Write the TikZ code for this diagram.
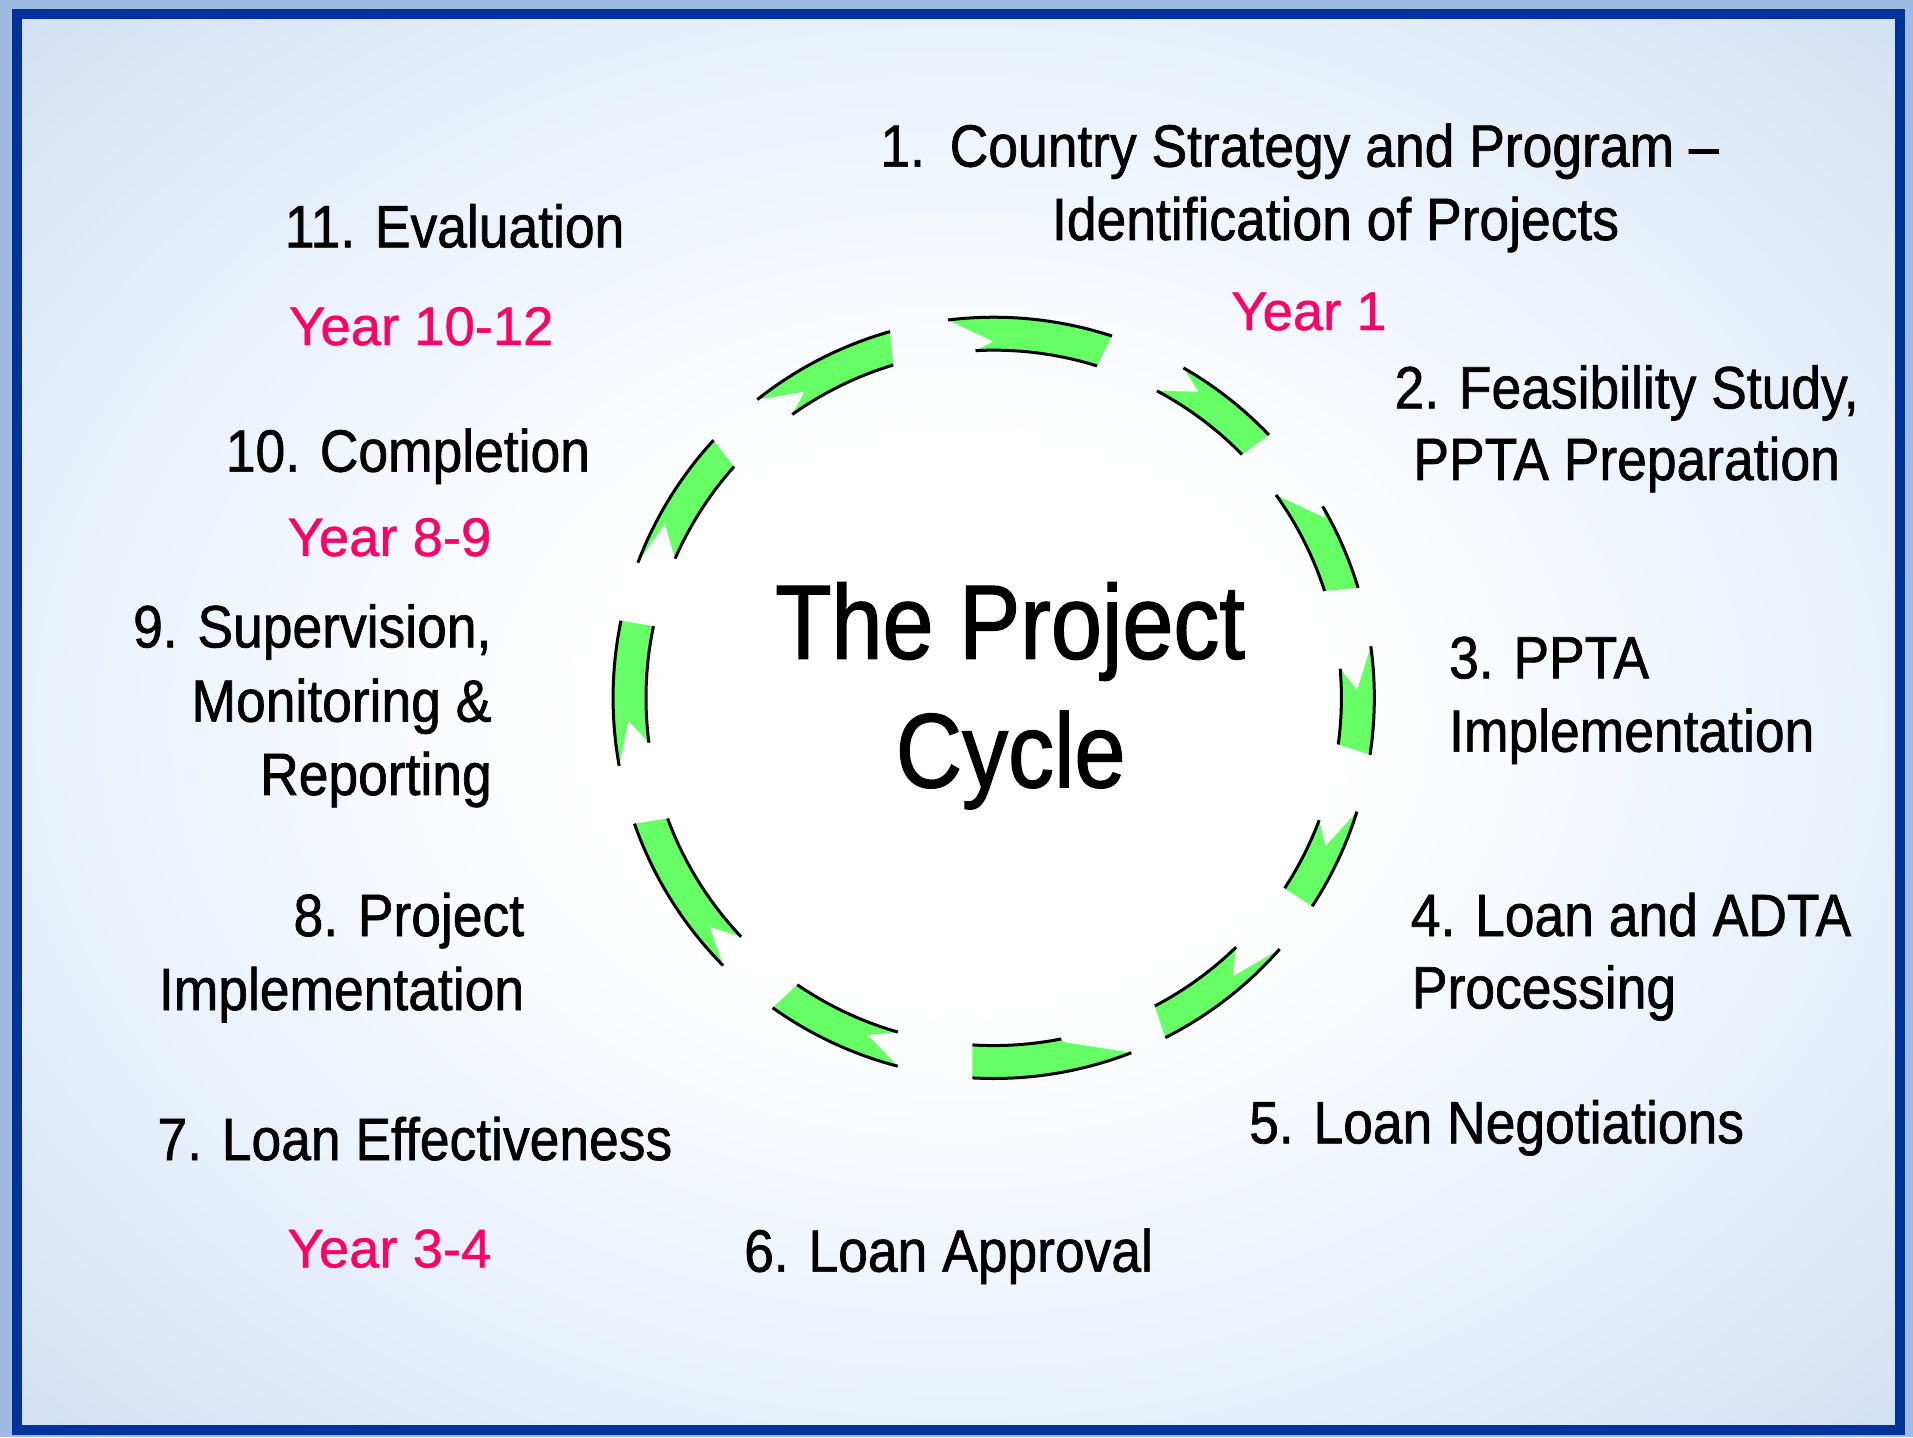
\documentclass[tikz,border=0pt]{standalone}
\usepackage{fontspec}
\newfontfamily\labfont[FakeStretch=0.895,FakeBold=1.1]{Liberation Sans}
\newfontfamily\yearfont[FakeBold=0.8]{Liberation Sans}
\newfontfamily\titlefont[FakeStretch=0.87,FakeBold=1.3]{Liberation Sans}
\definecolor{bgcorner}{RGB}{158,188,226}
\definecolor{bgmid}{RGB}{180,204,233}
\definecolor{bglight}{RGB}{226,236,248}
\definecolor{frameblue}{RGB}{0,51,153}
\definecolor{arrowgreen}{RGB}{102,255,102}
\definecolor{yearpink}{RGB}{255,0,102}
\pgfdeclareradialshading{bgrad}{\pgfpoint{0bp}{0bp}}{color(0bp)=(white); color(10bp)=(white); color(28bp)=(bglight); color(48bp)=(bgmid); color(68bp)=(bgcorner); color(80bp)=(bgcorner)}
\begin{document}
\begin{tikzpicture}[x=0.01cm,y=-0.01cm,
  lab/.style={font=\labfont\fontsize{13.91pt}{16pt}\selectfont, inner sep=0pt, text=black},
  yr/.style={font=\yearfont\fontsize{12.69pt}{15pt}\selectfont, inner sep=0pt, text=yearpink},
  ttl/.style={font=\titlefont\fontsize{24.61pt}{28pt}\selectfont, inner sep=0pt, text=black},
  seg/.style={fill=arrowgreen, draw=none},
  rim/.style={draw=black, line width=0.7pt}]
\useasboundingbox (0,0) rectangle (1568,1178);
\fill[bgcorner] (0,0) rectangle (1568,1178);
\shade[shading=bgrad] (14,11.6) rectangle (1557.5,1172);
\draw[frameblue, line width=2.4pt] (14,11.6) rectangle (1557.5,1172);
% cycle arrows
\begin{scope}[shift={(814.5,572)}]
\foreach \ao/\ai/\an/\rn/\bo/\bi in {-6.9/-3.0/0/292/18.1/17.3, 29.9/28.0/33.8/302/46.3/45.6, 59.8/54.3/61.5/309/73.2/72.1, 82.2/85.2/88.8/298/98.6/97.7, 107.4/110.6/114.1/298/123.2/123.2, 131.3/135.8/139.4/301/153.2/152.4, 158.8/168.8/168.5/288/183.2/183.5, 194.6/196.0/200.5/295/215.5/214.4, 225.3/226.6/231.1/299/250.7/249.7, 259.7/262.6/266.4/300/281.7/281.9, 290.8/293.6/297.9/305/312.6/311.7, 321.6/324.6/328.3/295/344.2/343.2}{
  \pgfmathsetmacro\sAo{\ao-90}
  \pgfmathsetmacro\sAi{\ai-90}
  \pgfmathsetmacro\sAn{\an-90}
  \pgfmathsetmacro\sBo{\bo-90}
  \pgfmathsetmacro\sBi{\bi-90}
  \path[seg] plot[domain=\sAo:\sBo, samples=40, variable=\t] (\t:312)
     -- (\sBi:285)
     -- plot[domain=\sBi:\sAi, samples=40, variable=\t] (\t:285)
     -- (\sAn:\rn) -- cycle;
  \draw[rim] plot[domain=\sAo:\sBo, samples=40, variable=\t] (\t:312);
  \draw[rim] plot[domain=\sBi:\sAi, samples=40, variable=\t] (\t:285);
}
\end{scope}
% title
\node[ttl, anchor=base] (t1) at (828,539.9) {The Project};
\node[ttl, anchor=base] (t2) at (828.4,645.3) {Cycle};
% stages
\node[lab, anchor=base west] (n1num) at (721,136.6) {1.};
\node[lab, anchor=base] (n1a) at (1093.6,136.6) {Country Strategy and Program –};
\node[lab, anchor=base] (n1b) at (1094.7,196.7) {Identification of Projects};
\node[yr, anchor=base west] (y1) at (1008.5,270.5) {Year 1};
\node[lab, anchor=base] (n2a) at (1333.3,334.7) {2. Feasibility Study,};
\node[lab, anchor=base] (n2b) at (1333.3,393.4) {PPTA Preparation};
\node[lab, anchor=base west] (n3a) at (1187.1,556) {3. PPTA};
\node[lab, anchor=base west] (n3b) at (1187.1,616.1) {Implementation};
\node[lab, anchor=base west] (n4a) at (1155.7,767.2) {4. Loan and ADTA};
\node[lab, anchor=base west] (n4b) at (1156.6,826.5) {Processing};
\node[lab, anchor=base east] (n5) at (1430.3,937.1) {5. Loan Negotiations};
\node[lab, anchor=base west] (n6) at (609.3,1042.3) {6. Loan Approval};
\node[lab, anchor=base west] (n7) at (128.4,950.8) {7. Loan Effectiveness};
\node[yr, anchor=base west] (y3) at (235,1038.8) {Year 3-4};
\node[lab, anchor=base east] (n8a) at (430.3,767.2) {8. Project};
\node[lab, anchor=base east] (n8b) at (430.3,827.9) {Implementation};
\node[lab, anchor=base east] (n9a) at (403.5,530.6) {9. Supervision,};
\node[lab, anchor=base east] (n9b) at (403.5,591.5) {Monitoring \&};
\node[lab, anchor=base east] (n9c) at (403.8,651.6) {Reporting};
\node[lab, anchor=base west] (n10) at (184.4,386.6) {10. Completion};
\node[yr, anchor=base west] (y8) at (235,455.7) {Year 8-9};
\node[lab, anchor=base west] (n11) at (232.8,202.7) {11. Evaluation};
\node[yr, anchor=base west] (y10) at (236.3,282.8) {Year 10-12};
\end{tikzpicture}
\end{document}
